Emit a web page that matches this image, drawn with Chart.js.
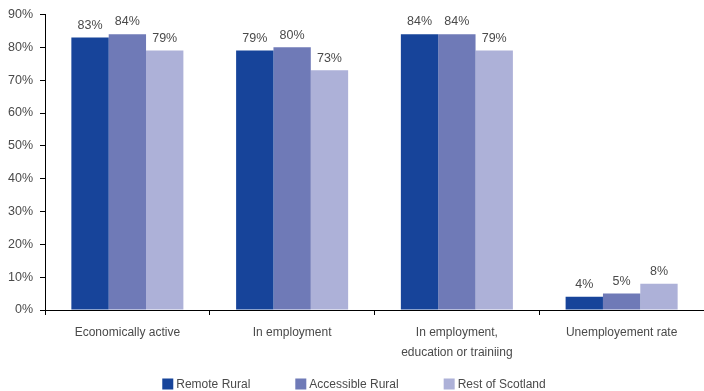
<!DOCTYPE html>
<html>
<head>
<meta charset="utf-8">
<script src="https://cdn.jsdelivr.net/npm/chart.js@4/dist/chart.umd.min.js"></script>
<style>
  html, body { margin: 0; padding: 0; background: #fff; }
  #wrap { width: 704px; height: 391px; position: relative; }
</style>
</head>
<body>
<div id="wrap"><canvas id="c" width="704" height="391"></canvas></div>
<script>
const categories = [
  'Economically active',
  'In employment',
  ['In employment,', 'education or trainiing'],
  'Unemployement rate'
];
const seriesNames = ['Remote Rural', 'Accessible Rural', 'Rest of Scotland'];
const remoteRural = [83, 79, 84, 4];
const accessibleRural = [84, 80, 84, 5];
const restOfScotland = [79, 73, 79, 8];
const yTicks = [0, 10, 20, 30, 40, 50, 60, 70, 80, 90];

const colors = ['#17449a', '#6f7ab7', '#adb1d8'];
const FONT = '"Liberation Sans", Arial, sans-serif';
const TEXT = '#4a4a4a';

// value labels above each bar
const barLabels = {
  id: 'barLabels',
  afterDatasetsDraw(chart) {
    const ctx = chart.ctx;
    ctx.save();
    ctx.font = '12.5px ' + FONT;
    ctx.fillStyle = TEXT;
    ctx.textAlign = 'center';
    ctx.textBaseline = 'bottom';
    chart.data.datasets.forEach((ds, i) => {
      chart.getDatasetMeta(i).data.forEach((bar, j) => {
        ctx.fillText(ds.data[j] + '%', bar.x, bar.y - 6);
      });
    });
    ctx.restore();
  }
};

// legend row along the bottom edge
const bottomLegend = {
  id: 'bottomLegend',
  afterDraw(chart) {
    const ctx = chart.ctx;
    ctx.save();
    ctx.font = '12px ' + FONT;
    ctx.textBaseline = 'middle';
    const box = 11, gapText = 3, gapItem = 45;
    const widths = seriesNames.map(n => box + gapText + ctx.measureText(n).width);
    const total = widths.reduce((a, b) => a + b, 0) + gapItem * (seriesNames.length - 1);
    let x = (chart.width - total) / 2 + 2;
    const y = 384;
    seriesNames.forEach((n, i) => {
      ctx.fillStyle = colors[i];
      ctx.fillRect(x, y - box / 2, box, box);
      ctx.fillStyle = TEXT;
      ctx.fillText(n, x + box + gapText, y + 1);
      x += widths[i] + gapItem;
    });
    ctx.restore();
  }
};

new Chart(document.getElementById('c'), {
  type: 'bar',
  data: {
    labels: categories,
    datasets: [
      { label: seriesNames[0], data: remoteRural, backgroundColor: colors[0] },
      { label: seriesNames[1], data: accessibleRural, backgroundColor: colors[1] },
      { label: seriesNames[2], data: restOfScotland, backgroundColor: colors[2] }
    ]
  },
  options: {
    responsive: false,
    animation: false,
    devicePixelRatio: 1,
    layout: { padding: { top: 14, right: 0, bottom: 0, left: 0 } },
    datasets: { bar: { categoryPercentage: 0.68, barPercentage: 1.0 } },
    plugins: { legend: { display: false }, tooltip: { enabled: false } },
    scales: {
      x: {
        offset: true,
        grid: { display: true, offset: true, drawOnChartArea: false, drawTicks: true, tickLength: 5, tickColor: '#000' },
        border: { color: '#000', width: 1 },
        ticks: { color: TEXT, font: { family: FONT, size: 12, lineHeight: 1.65 }, padding: 8, maxRotation: 0, autoSkip: false },
        afterFit(s) { s.height = 81; }
      },
      y: {
        min: 0, max: 90,
        afterBuildTicks(s) { s.ticks = yTicks.map(v => ({ value: v })); },
        grid: { display: true, drawOnChartArea: false, drawTicks: true, tickLength: 5, tickColor: '#000' },
        border: { color: '#000', width: 1 },
        ticks: { color: TEXT, font: { family: FONT, size: 12.5 }, padding: 7, callback: v => v + '%' },
        afterFit(s) { s.width = 45; }
      }
    }
  },
  plugins: [barLabels, bottomLegend]
});
</script>
</body>
</html>
